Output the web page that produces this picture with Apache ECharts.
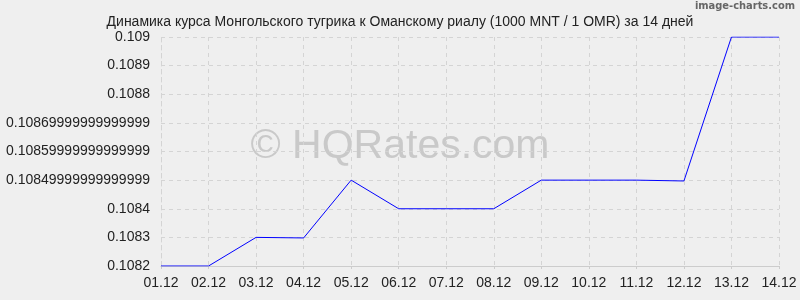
<!DOCTYPE html>
<html><head><meta charset="utf-8">
<script src="https://cdn.jsdelivr.net/npm/echarts@6/dist/echarts.min.js"></script>
<style>html,body{margin:0;padding:0;background:#efefef}#c{width:800px;height:300px}</style>
</head><body><div id="c"></div>
<script>
const categories = ["01.12","02.12","03.12","04.12","05.12","06.12","07.12","08.12","09.12","10.12","11.12","12.12","13.12","14.12"];
const rates = [0.1082,0.1082,0.1083,0.108298,0.1085,0.1084,0.10840,0.1084,0.1085,0.10850,0.10850,0.108497,0.1090,0.1090];
const yTickLabels = ["0.1082","0.1083","0.1084","0.10849999999999999","0.10859999999999999","0.10869999999999999","0.1088","0.1089","0.109"];
const yMin = 0.1082, yMax = 0.109, yStep = 0.0001;
const titleText = "Динамика курса Монгольского тугрика к Оманскому риалу (1000 MNT / 1 OMR) за 14 дней";

const chart = echarts.init(document.getElementById('c'), null, {renderer:'canvas'});
chart.setOption({
  backgroundColor: '#efefef',
  animation: false,
  title: {
    text: titleText, left: 'center', top: 10,
    textStyle: {fontFamily: 'Liberation Sans, Arial', fontSize: 14, fontWeight: 'normal', color: '#222'}
  },
  graphic: [
    {type:'text', left: 'center', top: 126, z: 0, silent: true,
     style:{text:'© HQRates.com', fontFamily:'Liberation Sans, Arial', fontSize:41, fill:'#c9c9c9'}},
    {type:'text', right: 5, top: 1, style:{text:'image-charts.com', fontFamily:'DejaVu Sans Condensed, Liberation Sans Narrow, sans-serif', fontSize:11, fontWeight:'bold', fill:'#666'}}
  ],
  grid: {left: 161, right: 21, top: 37, bottom: 34},
  xAxis: {
    type: 'category', data: categories, boundaryGap: false,
    axisLine: {show: true, lineStyle: {color: '#cccccc'}},
    axisTick: {show: true, length: 3, lineStyle: {color: '#cccccc'}},
    axisLabel: {fontFamily:'Liberation Sans, Arial', fontSize: 14, color: '#222', margin: 10},
    splitLine: {show: true, lineStyle: {color: '#d4d4d4', type: [4,4]}}
  },
  yAxis: {
    type: 'value', min: yMin, max: yMax, interval: yStep,
    axisLine: {show: true, lineStyle: {color: '#d4d4d4', type: [4,4]}},
    axisTick: {show: false},
    axisLabel: {fontFamily:'Liberation Sans, Arial', fontSize: 14, color: '#222', margin: 11,
      formatter: function(v){ const i = Math.round((v - yMin)/yStep); return yTickLabels[i] !== undefined ? yTickLabels[i] : ''; }},
    splitLine: {show: true, lineStyle: {color: '#d4d4d4', type: [4,4]}}
  },
  series: [{
    type: 'line', data: rates, showSymbol: false, symbol: 'none', z: 5,
    lineStyle: {color: '#0000ff', width: 1}
  }]
});
</script></body></html>
